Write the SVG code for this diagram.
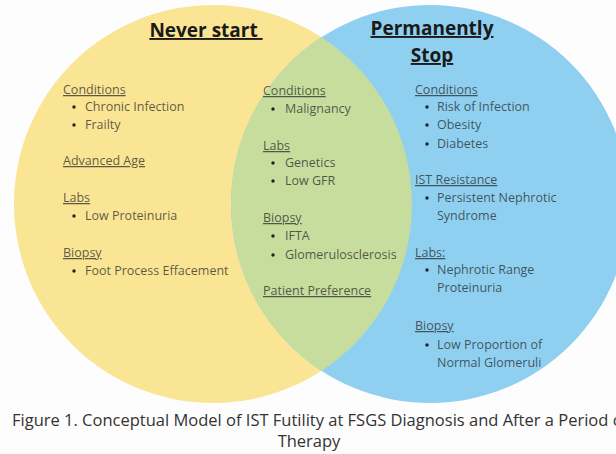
<svg xmlns="http://www.w3.org/2000/svg" width="616" height="454" viewBox="0 0 616 454">
<style>
text{font-family:"Open Sans","Noto Sans","Liberation Sans",sans-serif}
.title{font-size:19px;font-weight:bold;fill:#1a1a1a;text-decoration:underline}
.h{font-size:12.5px;fill:#222;fill-opacity:0.72;text-decoration:underline}
.t{font-size:12.5px;fill:#222;fill-opacity:0.72}
.cap{font-size:16.5px;fill:#333}
.b{fill:#222}
</style>
<rect width="616" height="454" fill="#fdfdfd"/>
<g id="never-start">
<circle cx="213" cy="204" r="199" fill="#fae594"/>
</g>
<g id="permanently-stop">
<circle cx="430" cy="204" r="199" fill="#8fd0f0"/>
</g>
<g id="overlap">
<path d="M321.5 37.2 A199 199 0 0 1 321.5 370.8 A199 199 0 0 1 321.5 37.2 Z" fill="#c6dd9e"/>
</g>
<g id="connectors"></g>
<g id="titles">
<text class="title" x="206" y="37" text-anchor="middle" xml:space="preserve">Never start </text>
<text class="title" x="432" y="35" text-anchor="middle">Permanently</text>
<text class="title" x="432" y="62" text-anchor="middle">Stop</text>
</g>
<g id="left-items">
<text class="h" x="63" y="94">Conditions</text>
<circle class="b" cx="74" cy="107" r="1.7"/><text class="t" x="85" y="111">Chronic Infection</text>
<circle class="b" cx="74" cy="125" r="1.7"/><text class="t" x="85" y="129">Frailty</text>
<text class="h" x="63" y="165">Advanced Age</text>
<text class="h" x="63" y="202">Labs</text>
<circle class="b" cx="74" cy="216" r="1.7"/><text class="t" x="85" y="220">Low Proteinuria</text>
<text class="h" x="63" y="257">Biopsy</text>
<circle class="b" cx="74" cy="271" r="1.7"/><text class="t" x="85" y="275">Foot Process Effacement</text>
</g>
<g id="middle-items">
<text class="h" x="263" y="95">Conditions</text>
<circle class="b" cx="273" cy="109" r="1.7"/><text class="t" x="285" y="113">Malignancy</text>
<text class="h" x="263" y="150">Labs</text>
<circle class="b" cx="273" cy="163" r="1.7"/><text class="t" x="285" y="167">Genetics</text>
<circle class="b" cx="273" cy="181" r="1.7"/><text class="t" x="285" y="185">Low GFR</text>
<text class="h" x="263" y="222">Biopsy</text>
<circle class="b" cx="273" cy="236" r="1.7"/><text class="t" x="285" y="240">IFTA</text>
<circle class="b" cx="273" cy="255" r="1.7"/><text class="t" x="285" y="259">Glomerulosclerosis</text>
<text class="h" x="263" y="295">Patient Preference</text>
</g>
<g id="right-items">
<text class="h" x="415" y="94">Conditions</text>
<circle class="b" cx="427" cy="107" r="1.7"/><text class="t" x="437" y="111">Risk of Infection</text>
<circle class="b" cx="427" cy="125" r="1.7"/><text class="t" x="437" y="129">Obesity</text>
<circle class="b" cx="427" cy="144" r="1.7"/><text class="t" x="437" y="148">Diabetes</text>
<text class="h" x="415" y="184">IST Resistance</text>
<circle class="b" cx="427" cy="198" r="1.7"/><text class="t" x="437" y="202">Persistent Nephrotic</text>
<text class="t" x="437" y="220">Syndrome</text>
<text class="h" x="415" y="257">Labs:</text>
<circle class="b" cx="427" cy="270" r="1.7"/><text class="t" x="437" y="274">Nephrotic Range</text>
<text class="t" x="437" y="292">Proteinuria</text>
<text class="h" x="415" y="330">Biopsy</text>
<circle class="b" cx="427" cy="345" r="1.7"/><text class="t" x="437" y="349">Low Proportion of</text>
<text class="t" x="437" y="367">Normal Glomeruli</text>
</g>
<g id="caption">
<text class="cap" x="12" y="426">Figure 1. Conceptual Model of IST Futility at FSGS Diagnosis and After a Period of</text>
<text class="cap" x="309" y="447" text-anchor="middle">Therapy</text>
</g>
</svg>
